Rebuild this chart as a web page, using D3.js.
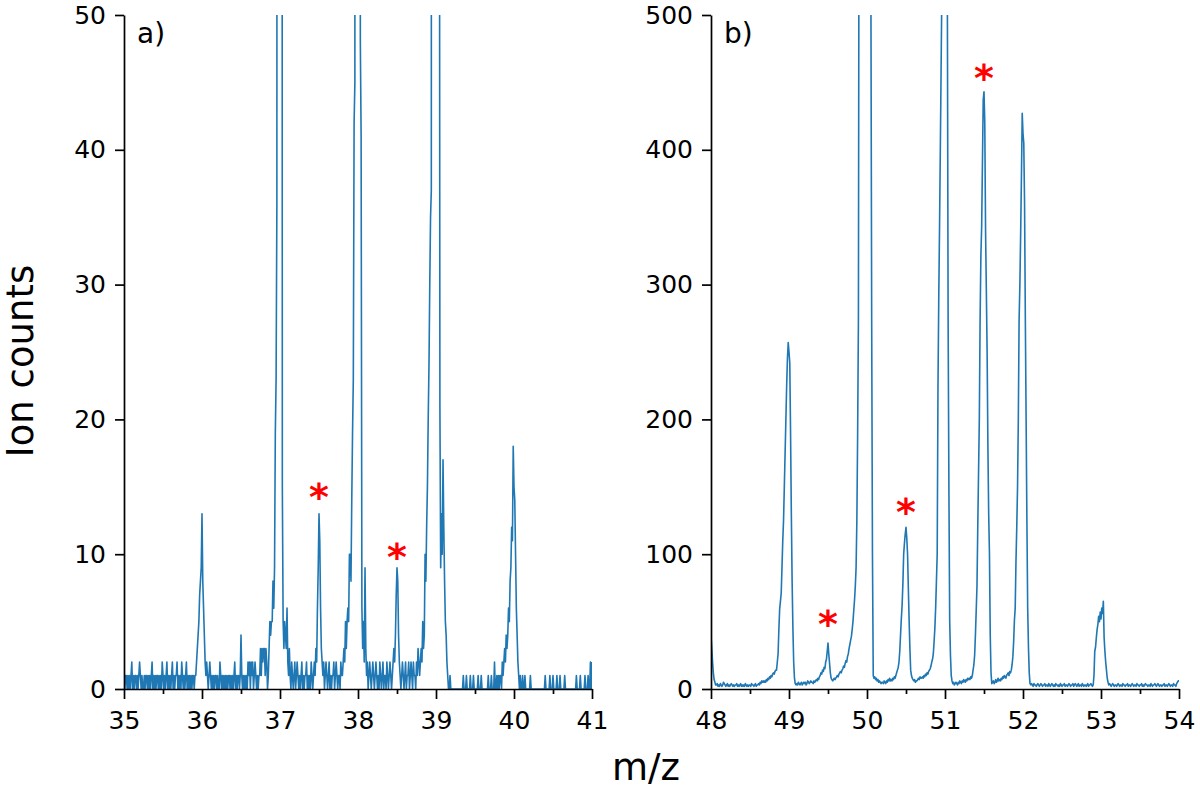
<!DOCTYPE html>
<html>
<head>
<meta charset="utf-8">
<script src="https://cdn.jsdelivr.net/npm/d3@7"></script>
<style>
body{margin:0;background:#fff;}
text{font-family:"DejaVu Sans",sans-serif;}
</style>
</head>
<body>
<div id="chart"></div>
<script>
// panel a) : ion counts every 0.01 m/z, one array per unit of m/z
var aStart = 35;
var a35 = [1,0,1,1,0,1,0,1,0,1, 2,0,1,0,1,1,0,1,0,1, 2,1,0,1,0,0,1,0,1,1, 0,1,0,1,0,1,2,0,1,0,
    1,0,1,1,0,1,0,1,0,2, 1,0,1,0,1,2,0,1,0,1, 0,1,2,0,1,0,1,1,2,0, 1,0,1,0,2,1,0,1,0,1,
    2,0,1,0,1,0,1,0,1,1, 0,1,1,2,3,4,5,7,8,9];
var a36 = [13,8,6,4,2,1,2,1,0,1, 2,1,0,1,0,1,0,1,1,0, 1,0,0,2,1,0,1,0,1,0, 1,0,1,0,1,1,0,1,0,1,
    0,1,2,0,1,0,1,1,0,1, 4,1,0,1,0,1,0,1,0,2, 1,2,0,2,1,2,0,1,2,1, 0,1,0,1,1,3,1,3,2,3,
    3,1,3,2,0,1,3,5,4,5, 5,8,6,9,19,23,36,300,800,1200];
var a37 = [1500,800,200,15,5,3,5,4,3,6, 2,1,3,1,0,2,1,0,1,2, 0,1,2,1,0,1,0,1,2,0, 1,0,1,1,2,0,1,0,1,0,
    2,1,0,1,2,1,3,2,6,9, 13,11,6,3,2,1,2,0,1,2, 1,0,1,2,0,1,0,1,1,2, 0,1,2,1,0,1,1,0,2,1,
    1,2,3,2,5,3,5,6,5,10, 10,8,14,19,23,42,45,600,1500,2000];
var a38 = [2200,1200,300,48,41,6,3,5,2,9, 3,1,2,0,1,2,1,0,1,2, 1,0,1,2,1,0,1,0,2,1, 0,1,2,0,1,1,0,2,1,0,
    1,2,1,0,1,2,3,2,4,7, 9,8,4,2,1,0,1,2,1,0, 1,2,0,1,1,2,0,1,2,1, 0,2,1,1,0,2,1,3,2,1,
    2,3,2,5,3,4,10,8,12,15, 20,24,30,35,37,400,1500,2500,3000,2500];
var a39 = [2000,1000,400,150,100,21,9,13,10,17, 12,8,5,4,2,1,0,0,1,0, 0,0,0,0,0,0,0,0,0,0, 0,0,0,0,0,1,0,0,0,1,
    0,0,0,0,1,0,0,0,1,0, 0,0,0,0,1,0,0,0,1,0, 0,0,0,0,0,0,0,1,0,0, 0,1,0,0,0,2,0,0,1,0,
    1,0,1,1,0,2,1,2,3,2, 4,3,4,6,5,8,9,12,11,18];
var a40 = [15,14,10,6,4,2,1,0,1,0, 0,1,0,0,1,0,0,0,0,0, 0,1,0,0,0,0,0,0,0,0, 0,0,0,0,0,0,0,0,0,0,
    1,0,0,0,0,0,1,0,0,0, 1,0,0,0,0,1,0,0,0,1, 0,0,0,0,0,1,0,0,0,0, 0,0,0,0,0,0,0,0,0,0,
    1,0,0,0,0,1,0,0,0,0, 0,1,0,0,0,1,0,0,2,0];
var a41 = [2];

// panel b)
var bStart = 48;
var b48 = [40,30,20,12,7,5,3,3,4,2, 3,2,4,3,2,3,5,4,3,2, 3,4,2,3,2,3,4,3,2,3, 2,3,3,4,2,3,2,3,4,2,
    3,2,3,2,4,3,2,3,2,3, 3,2,4,3,3,2,3,4,2,3, 3,4,3,5,4,6,5,6,5,6, 5,7,6,8,7,9,8,10,9,11,
    12,11,13,14,14,20,26,44,59,65, 71,90,110,125,150,175,200,225,245,257];
var b49 = [250,242,190,130,80,45,20,8,4,3, 4,3,5,4,3,4,5,3,4,5, 4,5,3,4,6,5,4,5,6,5, 5,4,6,5,6,7,6,8,7,9,
    10,12,11,14,13,16,15,20,22,28, 34,26,19,12,8,7,6,7,8,7, 8,9,10,9,11,12,13,12,14,15, 17,16,19,21,20,24,26,30,33,36,
    39,44,50,58,66,76,90,125,190,274, 700,1200,2000,3000,4000,4500,5000,5000,4500,4000];
var b50 = [3500,2500,1500,1000,700,520,274,100,10,8, 9,7,8,6,7,5,6,5,4,5, 5,4,6,5,4,6,5,7,6,8, 6,7,6,8,7,9,8,10,12,14,
    16,20,28,40,52,62,78,100,108,115, 120,112,100,75,51,30,14,10,8,7, 6,7,5,6,6,7,8,7,9,8, 8,9,8,10,9,11,10,12,11,13,
    14,15,17,20,22,26,35,45,60,80, 100,224,290,343,400,460,520,1500,3000,4500];
var b51 = [6000,4000,1500,520,274,150,51,25,10,6, 4,5,3,4,5,4,3,5,4,6, 5,4,6,5,7,6,5,7,6,8, 7,8,7,9,8,10,14,18,25,40,
    58,76,120,160,200,274,321,343,390,437, 443,420,340,296,250,180,130,100,40,12, 4,5,6,4,5,7,5,6,8,6, 7,6,8,7,9,8,10,9,8,10,
    11,12,10,13,12,14,18,24,35,51, 60,95,120,150,200,274,300,338,380,427];
var b52 = [412,405,360,274,200,125,60,31,12,4, 3,4,3,2,4,3,3,2,3,4, 3,2,3,4,3,2,3,3,4,2, 3,3,2,4,3,2,3,4,3,2,
    3,2,4,3,3,2,3,2,4,3, 2,3,3,4,2,3,3,2,3,4, 3,2,3,3,4,2,3,4,3,2, 3,4,2,3,3,2,4,3,2,3,
    3,2,3,4,2,3,3,4,3,2, 3,10,28,31,38,44,48,54,50,57];
var b53 = [52,60,56,65,38,28,20,14,8,5, 3,4,3,2,3,4,3,2,3,3, 2,3,4,3,2,3,3,2,4,3, 3,2,3,3,4,2,3,3,2,3,
    4,3,2,3,3,2,4,3,3,2, 3,3,4,2,3,2,3,4,3,3, 2,3,3,2,4,3,2,3,3,4, 3,2,3,4,3,2,3,3,2,3,
    3,4,2,3,3,2,3,4,3,2, 3,3,2,4,3,3,2,4,5,6];
var b54 = [6];

// peaks marked with a red star: m/z and height of the star
var starsA = [[37.5, 14.8], [38.5, 10.4]];
var starsB = [[49.5, 54], [50.5, 137], [51.5, 459]];

var xTicksA = [35, 36, 37, 38, 39, 40, 41], yTicksA = [0, 10, 20, 30, 40, 50];
var xTicksB = [48, 49, 50, 51, 52, 53, 54], yTicksB = [0, 100, 200, 300, 400, 500];

//把每个单位的数组接起来，得到 [m/z, counts]
function toSeries(start, arrays) {
    var out = [], k = 0;
    arrays.forEach(function (arr) {
        for (var i = 0; i < arr.length; i++) {
            out.push([start + k * 0.01, arr[i]]);
            k++;
        }
    });
    return out;
}

var W = 1200, H = 791, yTop = 15, yBot = 689;
var svg = d3.select('#chart').append('svg')
    .attr('width', W).attr('height', H);

function drawPanel(id, left, right, xDomain, yDomain, xTicks, yTicks, series, stars, tag) {
    var x = d3.scaleLinear().domain(xDomain).range([left, right]);
    var y = d3.scaleLinear().domain(yDomain).range([yBot, yTop]);
    var g = svg.append('g');

    g.append('clipPath').attr('id', 'clip' + id)
        .append('rect')
        .attr('x', left).attr('y', yTop)
        .attr('width', right - left).attr('height', yBot - yTop + 1);

    var line = d3.line()
        .x(function (d) { return x(d[0]); })
        .y(function (d) { return y(d[1]); });
    g.append('path')
        .datum(series)
        .attr('clip-path', 'url(#clip' + id + ')')
        .attr('d', line)
        .attr('fill', 'none')
        .attr('stroke', '#1f77b4')
        .attr('stroke-width', 1.6)
        .attr('stroke-linejoin', 'round');

    // minor ticks at half units
    var minor = xTicks.slice(0, -1).map(function (t) { return t + 0.5; });
    g.append('g')
        .attr('transform', 'translate(0,' + yBot + ')')
        .call(d3.axisBottom(x).tickValues(minor).tickSize(5).tickFormat(''))
        .call(function (a) { a.select('.domain').remove(); });

    g.append('g')
        .attr('transform', 'translate(0,' + yBot + ')')
        .call(d3.axisBottom(x).tickValues(xTicks).tickSize(10).tickPadding(12)
            .tickSizeOuter(0).tickFormat(d3.format('d')));
    g.append('g')
        .attr('transform', 'translate(' + left + ',0)')
        .call(d3.axisLeft(y).tickValues(yTicks).tickSize(9).tickPadding(9)
            .tickSizeOuter(0).tickFormat(d3.format('d')));

    g.selectAll('.domain, .tick line').attr('stroke', '#000').attr('stroke-width', 1.7);
    g.selectAll('.tick text').attr('font-size', 25).attr('fill', '#000')
        .style('font-family', '"DejaVu Sans", sans-serif');

    g.selectAll('.star')
        .data(stars)
        .enter().append('text')
        .attr('class', 'star')
        .attr('x', function (d) { return x(d[0]); })
        .attr('y', function (d) { return y(d[1]) + 21; })
        .attr('text-anchor', 'middle')
        .attr('font-size', 38)
        .attr('font-weight', 'bold')
        .attr('fill', '#ff0000')
        .text('*');

    g.append('text')
        .attr('x', left + 13).attr('y', 43)
        .attr('font-size', 28)
        .text(tag);
}

drawPanel('a', 124, 592, [35, 41], [0, 50], xTicksA, yTicksA,
    toSeries(aStart, [a35, a36, a37, a38, a39, a40, a41]), starsA, 'a)');
drawPanel('b', 711, 1179, [48, 54], [0, 500], xTicksB, yTicksB,
    toSeries(bStart, [b48, b49, b50, b51, b52, b53, b54]), starsB, 'b)');

// axis titles
svg.append('text')
    .attr('transform', 'translate(33,361) rotate(-90)')
    .attr('text-anchor', 'middle')
    .attr('font-size', 37)
    .text('Ion counts');
svg.append('text')
    .attr('x', 646).attr('y', 780)
    .attr('text-anchor', 'middle')
    .attr('font-size', 37)
    .text('m/z');
</script>
</body>
</html>
